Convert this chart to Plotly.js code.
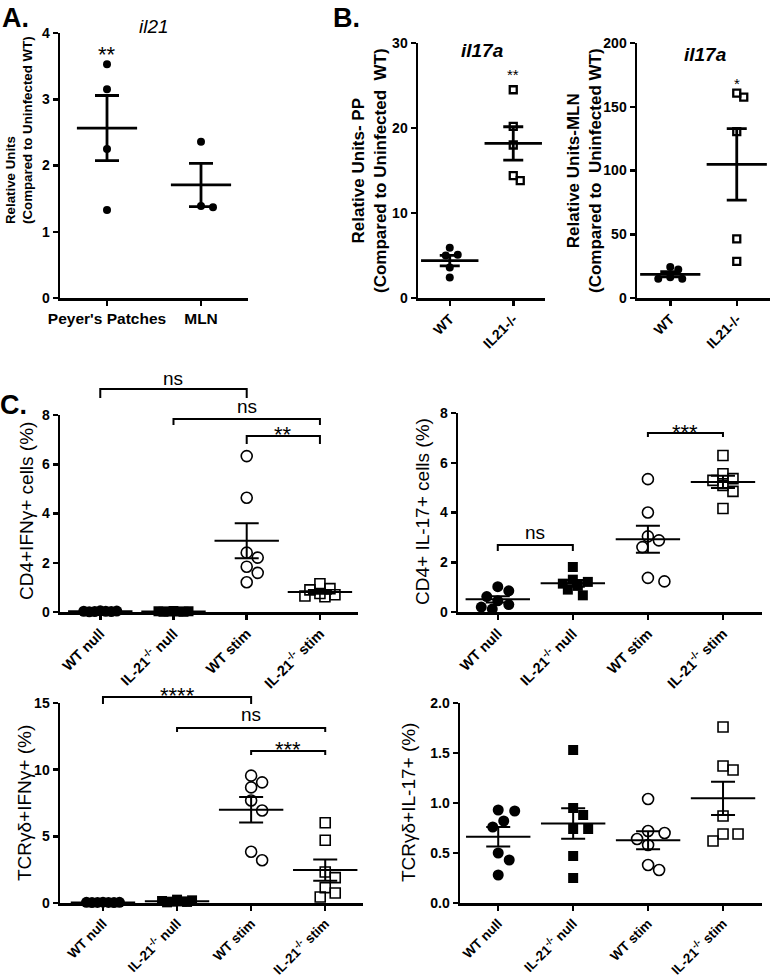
<!DOCTYPE html>
<html><head><meta charset="utf-8">
<script src="https://cdn.plot.ly/plotly-3.0.1.min.js"></script>
<style>html,body{margin:0;padding:0;background:#fff}#chart{width:771px;height:977px}</style>
</head><body><div id="chart"></div>
<script>
// ---------- DATA ----------
// Panel A: il21 relative units
const aCategories = ["Peyer's Patches", "MLN"];
const aPeyersPatches = [3.53, 3.15, 2.25, 1.33];
const aMLN = [2.36, 1.39, 1.37];
const aSignificance = ["**", ""];

// Panel B: il17a relative units
const bCategories = ["WT", "IL21-/-"];
const bPP_WT = [5.9, 5.1, 5.0, 3.6, 2.4];
const bPP_IL21 = [24.5, 20.2, 18.0, 14.4, 13.8];
const bMLN_WT = [24.4, 22.3, 16.3, 15.0, 15.0];
const bMLN_IL21 = [160.7, 157.5, 130.5, 46.4, 28.8];
const bPPSignificance = ["", "**"];
const bMLNSignificance = ["", "*"];

// Panel C: flow cytometry percentages
const cCategories = ["WT null", "IL-21<sup>-/-</sup> null", "WT stim", "IL-21<sup>-/-</sup> stim"];
const c1_WTnull = [0.05, 0.04, 0.03, 0.03, 0.02, 0.02, 0.01];
const c1_IL21null = [0.04, 0.03, 0.03, 0.02, 0.02, 0.01, 0.01];
const c1_WTstim = [6.33, 4.64, 2.41, 2.21, 1.84, 1.59, 1.21];
const c1_IL21stim = [1.15, 0.95, 0.90, 0.75, 0.70, 0.65, 0.62];
const c1Comparisons = [[0, 2, "ns"], [1, 3, "ns"], [2, 3, "**"]];

const c2_WTnull = [1.02, 0.85, 0.62, 0.45, 0.30, 0.20, 0.12];
const c2_IL21null = [1.81, 1.30, 1.21, 1.14, 1.05, 0.90, 0.67];
const c2_WTstim = [5.34, 4.00, 3.04, 2.88, 2.61, 1.37, 1.23];
const c2_IL21stim = [6.29, 5.56, 5.36, 5.29, 5.09, 4.85, 4.16];
const c2Comparisons = [[0, 1, "ns"], [2, 3, "***"]];

const c3_WTnull = [0.06, 0.05, 0.05, 0.04, 0.04, 0.03, 0.03];
const c3_IL21null = [0.25, 0.20, 0.15, 0.12, 0.10, 0.08, 0.05];
const c3_WTstim = [9.55, 9.05, 8.67, 7.69, 6.94, 3.84, 3.21];
const c3_IL21stim = [6.02, 4.71, 2.33, 1.90, 1.15, 0.75, 0.45];
const c3Comparisons = [[0, 2, "****"], [1, 3, "ns"], [2, 3, "***"]];

const c4_WTnull = [0.93, 0.92, 0.82, 0.76, 0.50, 0.43, 0.28];
const c4_IL21null = [1.53, 0.95, 0.88, 0.74, 0.74, 0.47, 0.25];
const c4_WTstim = [1.04, 0.72, 0.70, 0.64, 0.58, 0.38, 0.33];
const c4_IL21stim = [1.76, 1.37, 1.33, 0.87, 0.69, 0.69, 0.62];

// Axis titles
const aYTitle = "Relative Units<br>(Compared to Uninfected WT)";
const bPPYTitle = "Relative Units- PP<br>(Compared to Uninfected  WT)";
const bMLNYTitle = "Relative Units-MLN<br>(Compared to  Uninfected WT)";
const c1YTitle = "CD4+IFNγ+ cells (%)";
const c2YTitle = "CD4+ IL-17+ cells (%)";
const c3YTitle = "TCRγδ+IFNγ+ (%)";
const c4YTitle = "TCRγδ+IL-17+ (%)";

// ---------- LAYOUT / STYLE ----------
const W = 771, H = 977;
const FONT = "'Liberation Sans', Arial, Helvetica, sans-serif";
const px = v => v / W;
const py = v => 1 - v / H;

// panel geometry in pixels; title position (tx, ty) in pixels
const panels = [
  {id: 1, x0: 60,  x1: 248, y0: 33,  y1: 298, xr: [-0.5, 1.5],   yr: [0, 4],   dtick: 1,   cats: aCategories, rot: 0, tfs: 15.5},
  {id: 2, x0: 418, x1: 545, y0: 43,  y1: 298, xr: [-0.5, 1.5],   yr: [0, 30],  dtick: 10,  cats: bCategories, rot: -45, tfs: 14,
   title: bPPYTitle, tsize: 17, tbold: true, tx: 370, ty: 171},
  {id: 3, x0: 637, x1: 770, y0: 43,  y1: 298, xr: [-0.5, 1.5],   yr: [0, 200], dtick: 50,  cats: bCategories, rot: -45, tfs: 14,
   title: bMLNYTitle, tsize: 17, tbold: true, tx: 585, ty: 171},
  {id: 4, x0: 60,  x1: 358, y0: 415, y1: 612, xr: [-0.55, 3.52], yr: [0, 8],   dtick: 2,   cats: cCategories, rot: -45, tfs: 14.5,
   title: c1YTitle, tsize: 19, tbold: false, tx: 26, ty: 511},
  {id: 5, x0: 458, x1: 762, y0: 413, y1: 612, xr: [-0.53, 3.52], yr: [0, 8],   dtick: 2,   cats: cCategories, rot: -45, tfs: 14.5,
   title: c2YTitle, tsize: 19, tbold: false, tx: 422, ty: 512},
  {id: 6, x0: 60,  x1: 363, y0: 703, y1: 903, xr: [-0.58, 3.51], yr: [0, 15],  dtick: 5,   cats: cCategories, rot: -45, tfs: 13.5,
   title: c3YTitle, tsize: 19, tbold: false, tx: 24, ty: 803},
  {id: 7, x0: 460, x1: 762, y0: 703, y1: 903, xr: [-0.51, 3.52], yr: [0, 2],   dtick: 0.5, cats: cCategories, rot: -45, tfs: 13.5, fmt: ".1f",
   title: c4YTitle, tsize: 19, tbold: false, tx: 408, ty: 803}
];

function axName(p, l) { return l + (p.id === 1 ? "" : p.id); }

// deterministic swarm offsets so overlapping points sit side by side
function swarm(vals, cat, p, size) {
  const pxX = (p.x1 - p.x0) / (p.xr[1] - p.xr[0]);
  const pxY = (p.y1 - p.y0) / (p.yr[1] - p.yr[0]);
  const step = size * 0.5, K = 3, minD = size * 1.05;
  const order = [0];
  for (let k = 1; k <= K; k++) order.push(k, -k);
  const placed = [], xs = [];
  vals.forEach(v => {
    const yy = v * pxY;
    let best = 0, bestD = -1;
    for (const k of order) {
      const xx = k * step;
      let d = Infinity;
      placed.forEach(q => { d = Math.min(d, Math.hypot(q[0] - xx, q[1] - yy)); });
      if (d >= minD) { best = xx; bestD = d; break; }
      if (d > bestD) { bestD = d; best = xx; }
    }
    placed.push([best, yy]);
    xs.push(cat + best / pxX);
  });
  return xs;
}

function pointsTrace(vals, cat, p, symbol, size, lw) {
  return {
    type: "scatter", mode: "markers",
    x: swarm(vals, cat, p, size), y: vals,
    xaxis: axName(p, "x"), yaxis: axName(p, "y"),
    marker: {symbol: symbol, size: size, color: "#000", line: {color: "#000", width: lw || 0}},
    cliponaxis: false, hoverinfo: "y", showlegend: false
  };
}

function meanTrace(vals, cat, p, len, cap, lw) {
  const n = vals.length;
  const m = vals.reduce((a, b) => a + b, 0) / n;
  const sd = Math.sqrt(vals.reduce((a, b) => a + (b - m) * (b - m), 0) / (n - 1));
  return {
    type: "scatter", mode: "markers", x: [cat], y: [m],
    xaxis: axName(p, "x"), yaxis: axName(p, "y"),
    marker: {symbol: "line-ew", size: len, color: "#000", line: {color: "#000", width: lw}},
    error_y: {type: "data", array: [sd / Math.sqrt(n)], visible: true, width: cap, thickness: lw, color: "#000"},
    cliponaxis: false, hoverinfo: "y", showlegend: false
  };
}

const [pA, pB1, pB2, pC1, pC2, pC3, pC4] = panels;
const traces = [];
function group(vals, cat, p, sym, size, lw, len, cap, mlw) {
  traces.push(pointsTrace(vals, cat, p, sym, size, lw));
  traces.push(meanTrace(vals, cat, p, len, cap, mlw));
}
// A
group(aPeyersPatches, 0, pA, "circle", 8, 0, 43, 12, 2.8);
group(aMLN, 1, pA, "circle", 8, 0, 43, 12, 2.8);
// B
group(bPP_WT, 0, pB1, "circle", 8, 0, 41, 10, 2.8);
group(bPP_IL21, 1, pB1, "square-open", 7, 2.3, 41, 10, 2.8);
group(bMLN_WT, 0, pB2, "circle", 8, 0, 43, 10, 2.8);
group(bMLN_IL21, 1, pB2, "square-open", 7, 2.3, 43, 10, 2.8);
// C
const cSets = [
  [pC1, c1_WTnull, c1_IL21null, c1_WTstim, c1_IL21stim],
  [pC2, c2_WTnull, c2_IL21null, c2_WTstim, c2_IL21stim],
  [pC3, c3_WTnull, c3_IL21null, c3_WTstim, c3_IL21stim],
  [pC4, c4_WTnull, c4_IL21null, c4_WTstim, c4_IL21stim]
];
cSets.forEach(s => {
  const p = s[0];
  group(s[1], 0, p, "circle", 11, 0, 46, 12, 2);
  group(s[2], 1, p, "square", 10, 0, 46, 12, 2);
  group(s[3], 2, p, "circle-open", 11, 1.6, 46, 12, 2);
  group(s[4], 3, p, "square-open", 10, 1.6, 46, 12, 2);
});

// axes
const layout = {
  width: W, height: H, margin: {l: 0, r: 0, t: 0, b: 0},
  paper_bgcolor: "#fff", plot_bgcolor: "rgba(0,0,0,0)",
  showlegend: false, font: {family: FONT, color: "#000"},
  shapes: [], annotations: []
};
panels.forEach(p => {
  const xa = {
    domain: [px(p.x0), px(p.x1)], range: p.xr, anchor: axName(p, "y"),
    tickmode: "array", tickvals: p.cats.map((c, i) => i), ticktext: p.cats,
    tickangle: p.rot, showline: true, linewidth: 2.5, linecolor: "#000",
    ticks: "outside", ticklen: 5, tickwidth: 2.5, tickcolor: "#000",
    showgrid: false, zeroline: false, fixedrange: true,
    tickfont: {family: FONT, size: p.tfs, color: "#000", weight: "bold"}
  };
  const ya = {
    domain: [py(p.y1), py(p.y0)], range: p.yr, anchor: axName(p, "x"),
    dtick: p.dtick, tick0: 0, tickformat: p.fmt || "",
    showline: true, linewidth: 2.5, linecolor: "#000",
    ticks: "outside", ticklen: 5, tickwidth: 2.5, tickcolor: "#000",
    showgrid: false, zeroline: false, fixedrange: true,
    tickfont: {family: FONT, size: 14, color: "#000", weight: "bold"}
  };
  layout["xaxis" + (p.id === 1 ? "" : p.id)] = xa;
  layout["yaxis" + (p.id === 1 ? "" : p.id)] = ya;
  if (p.title) {
    layout.annotations.push({
      xref: "paper", yref: "paper", x: px(p.tx), y: py(p.ty), xanchor: "center", yanchor: "middle",
      textangle: -90, showarrow: false, text: p.title,
      font: {family: FONT, size: p.tsize, color: "#000", weight: p.tbold ? "bold" : "normal"}
    });
  }
});

// Panel A y title: lines start-aligned (bottom) as in the original
layout.annotations.push({
  xref: "paper", yref: "paper", x: px(19), y: py(226), xanchor: "center", yanchor: "bottom",
  textangle: -90, align: "left", showarrow: false, text: aYTitle,
  font: {family: FONT, size: 13.3, color: "#000", weight: "bold"}
});

// significance brackets (pixel heights are layout positions)
function addBrackets(p, comps, lines) {
  comps.forEach((c, i) => {
    const L = lines[i];
    layout.shapes.push({
      type: "path", xref: axName(p, "x"), yref: "paper",
      path: `M ${c[0]},${py(L.tip)} L ${c[0]},${py(L.y)} L ${c[1]},${py(L.y)} L ${c[1]},${py(L.tip)}`,
      line: {color: "#000", width: 2}
    });
    const star = c[2].indexOf("*") >= 0;
    const fs = star ? 22 : 19;
    layout.annotations.push({
      xref: axName(p, "x"), yref: "paper", x: (c[0] + c[1]) / 2,
      y: py(L.text + (star ? 0.24 * fs : -0.09 * fs)), yanchor: "middle", showarrow: false,
      text: c[2], font: {family: FONT, size: fs, color: "#000"}
    });
  });
}
addBrackets(pC1, c1Comparisons, [{y: 389, tip: 398, text: 380}, {y: 419, tip: 425, text: 408}, {y: 436, tip: 444, text: 429.5}]);
addBrackets(pC2, c2Comparisons, [{y: 545, tip: 551, text: 534}, {y: 433, tip: 437, text: 427}]);
addBrackets(pC3, c3Comparisons, [{y: 697, tip: 704, text: 690.5}, {y: 728, tip: 732, text: 716.5}, {y: 751, tip: 755, text: 744.5}]);

// significance marks above groups in A and B
function addMarks(p, marks, ys, size) {
  marks.forEach((m, i) => {
    if (!m) return;
    layout.annotations.push({
      xref: axName(p, "x"), yref: "paper", x: i, y: py(ys + size * 0.24), yanchor: "middle",
      showarrow: false, text: m, font: {family: FONT, size: size, color: "#000"}
    });
  });
}
addMarks(pA, aSignificance, 49, 22);
addMarks(pB1, bPPSignificance, 71, 15);
addMarks(pB2, bMLNSignificance, 79.5, 15);

// panel titles and letters
function txt(x, y, t, size, opts) {
  layout.annotations.push(Object.assign({
    xref: "paper", yref: "paper", x: px(x), y: py(y), xanchor: "center", yanchor: "middle",
    showarrow: false, text: t, font: Object.assign({family: FONT, size: size, color: "#000"}, (opts && opts.font) || {})
  }, (opts && opts.a) || {}));
}
txt(154, 27, "il21", 19, {font: {style: "italic"}});
txt(482, 50, "il17a", 19, {font: {style: "italic", weight: "bold"}});
txt(705, 54, "il17a", 19, {font: {style: "italic", weight: "bold"}});
txt(0, 18, "A.", 27, {font: {weight: "bold"}, a: {xanchor: "left"}});
txt(331, 18, "B.", 27, {font: {weight: "bold"}, a: {xanchor: "left"}});
txt(-2, 405, "C.", 27, {font: {weight: "bold"}, a: {xanchor: "left"}});

Plotly.newPlot("chart", traces, layout, {displayModeBar: false, staticPlot: true});
</script>
</body></html>
